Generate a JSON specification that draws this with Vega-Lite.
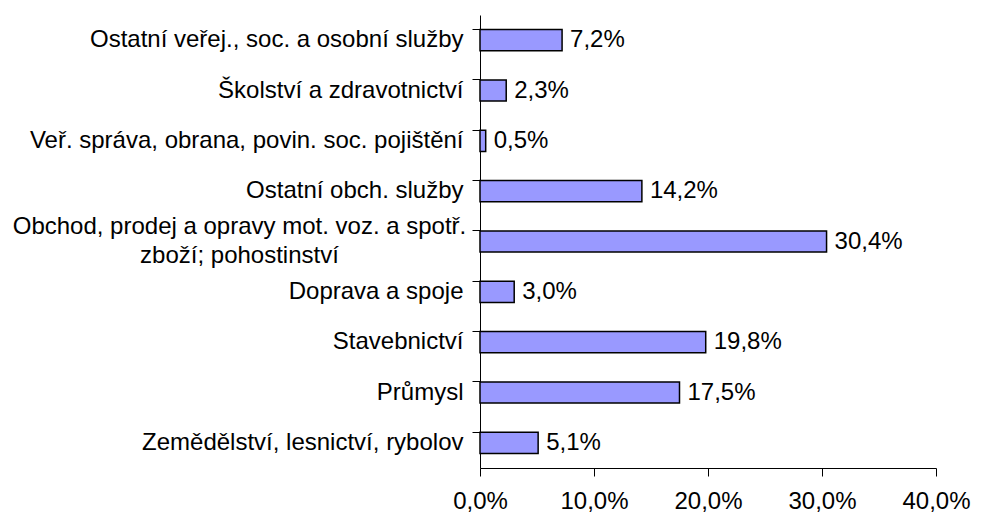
{
  "$schema": "https://vega.github.io/schema/vega-lite/v6.json",
  "autosize": "none",
  "width": 456,
  "height": 453,
  "padding": {"left": 480, "top": 15, "right": 45, "bottom": 47},
  "background": "white",
  "config": {
    "view": {"stroke": null},
    "font": "Liberation Sans",
    "axis": {"labelFont": "Liberation Sans", "labelColor": "black", "domainColor": "black", "tickColor": "black", "grid": false}
  },
  "data": {
    "values": [
      {"category": "Ostatní veřej., soc. a osobní služby", "value": 7.2},
      {"category": "Školství a zdravotnictví", "value": 2.3},
      {"category": "Veř. správa, obrana, povin. soc. pojištění", "value": 0.5},
      {"category": "Ostatní obch. služby", "value": 14.2},
      {"category": "Obchod, prodej a opravy mot. voz. a spotř.\nzboží;  pohostinství", "value": 30.4},
      {"category": "Doprava a spoje", "value": 3.0},
      {"category": "Stavebnictví", "value": 19.8},
      {"category": "Průmysl", "value": 17.5},
      {"category": "Zemědělství, lesnictví, rybolov", "value": 5.1}
    ]
  },
  "transform": [
    {"calculate": "replace(format(datum.value, '.1f'), '.', ',') + '%'", "as": "label"}
  ],
  "encoding": {
    "y": {
      "field": "category",
      "type": "nominal",
      "sort": null,
      "title": null,
      "scale": {"paddingInner": 0.58, "paddingOuter": 0.29},
      "axis": {
        "bandPosition": 0,
        "tickSize": 8,
        "labelFontSize": 24,
        "labelLimit": 0,
        "labelLineHeight": 29,
        "labelExpr": "split(datum.value, '\\n')",
        "labelAlign": {"condition": {"test": "indexof(datum.value, '\\n') >= 0", "value": "center"}, "value": "right"},
        "labelPadding": {"condition": {"test": "indexof(datum.value, '\\n') >= 0", "value": 233}, "value": 9},
        "labelOffset": {"condition": {"test": "indexof(datum.value, '\\n') >= 0", "value": -15}, "value": 0},
        "domainWidth": 1,
        "tickWidth": 1
      }
    },
    "x": {
      "field": "value",
      "type": "quantitative",
      "title": null,
      "scale": {"domain": [0, 40]},
      "axis": {
        "values": [0, 10, 20, 30, 40],
        "tickSize": 8,
        "labelPadding": 13,
        "labelFontSize": 24,
        "labelExpr": "replace(format(datum.value, '.1f'), '.', ',') + '%'",
        "domainWidth": 1,
        "tickWidth": 1,
        "labelFlush": false,
        "labelOverlap": false
      }
    }
  },
  "layer": [
    {
      "mark": {"type": "bar", "color": "#9999FF", "stroke": "black", "strokeWidth": 1.5}
    },
    {
      "mark": {"type": "text", "align": "left", "baseline": "middle", "dx": 8, "fontSize": 24, "color": "black"},
      "encoding": {"text": {"field": "label"}}
    }
  ]
}
